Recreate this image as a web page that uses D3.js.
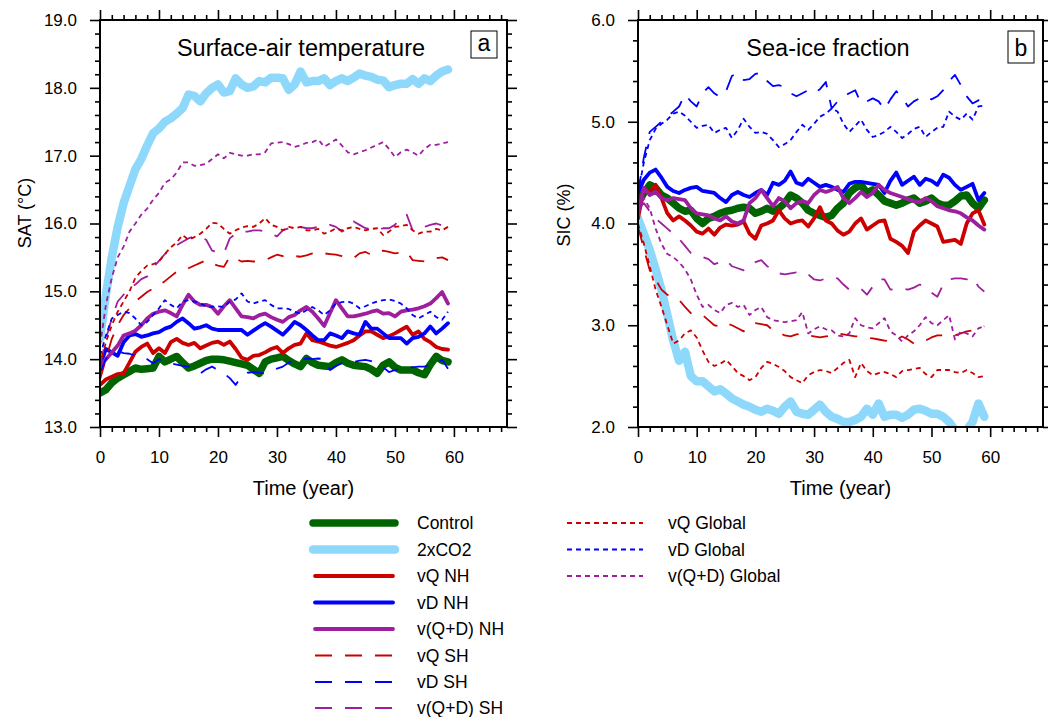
<!DOCTYPE html>
<html>
<head>
<meta charset="utf-8">
<script src="https://cdn.jsdelivr.net/npm/d3@7"></script>
<style>
  html, body { margin: 0; padding: 0; background: #fff; }
  svg { display: block; font-family: "Liberation Sans", Arial, Helvetica, sans-serif; }
</style>
</head>
<body>
<svg id="chart" width="1048" height="717"></svg>
<script>
// ---------------- DATA ----------------
const years = d3.range(0, 60);
const xTickValues = [0, 10, 20, 30, 40, 50, 60];
const satTicks = [13, 14, 15, 16, 17, 18, 19];
const sicTicks = [2, 3, 4, 5, 6];
const seriesNames = ["Control", "2xCO2", "vQ NH", "vD NH", "v(Q+D) NH", "vQ SH", "vD SH", "v(Q+D) SH", "vQ Global", "vD Global", "v(Q+D) Global"];

// Surface-air temperature (°C)
const satControl = [13.5,13.55,13.65,13.72,13.77,13.82,13.87,13.85,13.86,13.87,14.04,13.96,14.0,14.04,13.95,13.87,13.9,13.94,13.98,14.0,14.0,13.99,13.97,13.95,13.93,13.91,13.85,13.79,13.96,14.0,14.02,14.04,13.98,13.93,13.89,14.01,13.95,13.91,13.9,13.89,13.95,13.99,13.94,13.91,13.9,13.89,13.85,13.79,13.91,13.96,13.88,13.84,13.84,13.84,13.8,13.77,13.92,14.04,13.98,13.96];
const sat2xCO2 = [14.3,14.95,15.5,15.95,16.3,16.55,16.8,16.95,17.15,17.33,17.4,17.5,17.55,17.62,17.7,17.9,17.88,17.8,17.92,18.0,18.05,17.93,17.95,18.14,18.05,18.0,18.02,18.1,18.08,18.15,18.15,18.14,17.97,18.05,18.24,18.08,18.1,18.1,18.14,18.04,18.1,18.14,18.1,18.15,18.21,18.18,18.16,18.12,18.11,18.01,18.04,18.06,18.06,18.13,18.06,18.14,18.1,18.18,18.24,18.27];
const satVQNH = [13.62,13.7,13.74,13.78,13.79,13.95,14.11,14.18,14.23,14.09,14.16,14.09,14.25,14.3,14.24,14.21,14.24,14.16,14.2,14.24,14.26,14.21,14.26,14.15,14.02,13.99,14.05,14.06,14.1,14.15,14.18,14.09,14.16,14.21,14.23,14.38,14.28,14.26,14.23,14.2,14.18,14.21,14.24,14.28,14.35,14.41,14.41,14.36,14.31,14.34,14.38,14.43,14.48,14.36,14.41,14.3,14.25,14.18,14.15,14.14];
const satVDNH = [13.9,14.15,14.1,14.05,14.25,14.35,14.37,14.33,14.35,14.38,14.4,14.45,14.48,14.55,14.6,14.53,14.45,14.47,14.5,14.45,14.43,14.43,14.43,14.43,14.43,14.36,14.42,14.48,14.53,14.48,14.42,14.36,14.45,14.55,14.5,14.43,14.35,14.28,14.28,14.38,14.35,14.31,14.41,14.38,14.36,14.55,14.45,14.45,14.38,14.31,14.31,14.31,14.23,14.31,14.33,14.38,14.48,14.38,14.45,14.53];
const satVQDNH = [13.9,14.0,14.1,14.2,14.35,14.38,14.42,14.5,14.6,14.67,14.7,14.72,14.68,14.63,14.8,14.95,14.85,14.8,14.8,14.77,14.67,14.78,14.87,14.75,14.63,14.62,14.6,14.65,14.67,14.62,14.58,14.55,14.62,14.65,14.72,14.77,14.7,14.6,14.49,14.68,14.87,14.75,14.63,14.63,14.65,14.67,14.7,14.72,14.67,14.68,14.63,14.7,14.72,14.73,14.75,14.78,14.82,14.9,14.99,14.82];
const satVQSH = [13.7,14.0,14.3,14.5,14.65,14.75,14.85,14.92,14.99,15.04,15.09,15.15,15.22,15.29,15.3,15.34,15.38,15.42,15.46,15.41,15.38,15.36,15.51,15.48,15.44,15.45,15.44,15.45,15.46,15.5,15.54,15.52,15.54,15.52,15.51,15.53,15.56,15.58,15.56,15.55,15.54,15.52,15.5,15.49,15.56,15.58,15.54,15.56,15.6,15.58,15.56,15.57,15.58,15.46,15.45,15.44,15.47,15.49,15.5,15.46];
const satVDSH = [13.8,14.0,14.1,14.12,14.09,14.08,14.05,14.04,14.0,13.94,14.0,13.97,13.94,13.92,13.9,13.89,13.84,13.79,13.85,13.89,13.84,13.79,13.72,13.62,13.75,13.8,13.81,13.8,13.79,13.82,13.86,13.89,13.95,13.99,14.0,14.01,14.0,14.01,14.0,13.84,13.9,13.94,13.95,13.96,13.98,13.99,13.97,13.94,13.88,13.81,13.84,13.86,13.89,13.88,13.89,13.89,13.92,13.94,13.99,13.86];
const satVQDSH = [13.9,14.3,14.6,14.85,14.95,15.05,15.1,15.18,15.22,15.35,15.45,15.55,15.61,15.68,15.73,15.78,15.81,15.8,15.76,15.6,15.58,15.56,15.78,15.85,15.88,15.88,15.9,15.9,15.88,15.85,15.81,15.9,15.93,15.9,15.95,15.93,15.93,15.95,15.95,15.98,15.95,15.88,15.93,16.03,15.98,15.93,15.92,15.9,15.93,15.93,15.98,16.08,16.13,15.9,15.92,15.95,15.98,16.0,15.97,15.95];
const satVQGL = [13.9,14.25,14.5,14.7,14.85,15.0,15.2,15.3,15.38,15.4,15.44,15.55,15.65,15.72,15.83,15.76,15.8,15.85,15.92,16.01,16.0,15.92,15.85,15.9,15.94,15.96,15.95,16.0,16.08,15.98,15.95,15.9,15.95,15.93,15.95,15.9,15.9,15.92,15.85,15.88,15.93,15.9,15.93,15.95,15.92,15.9,15.92,15.93,15.83,15.88,15.95,15.96,15.98,15.9,15.85,15.88,15.88,15.92,15.9,15.95];
const satVDGL = [14.05,14.35,14.6,14.65,14.7,14.68,14.6,14.5,14.55,14.65,14.75,14.87,14.8,14.75,14.85,14.87,14.85,14.82,14.78,14.77,14.78,14.77,14.85,14.88,14.97,14.85,14.82,14.85,14.87,14.8,14.75,14.75,14.74,14.7,14.67,14.72,14.77,14.72,14.65,14.72,14.82,14.84,14.85,14.82,14.75,14.78,14.82,14.85,14.87,14.88,14.86,14.82,14.75,14.65,14.6,14.65,14.7,14.62,14.58,14.7];
const satVQDGL = [14.2,14.8,15.2,15.5,15.66,15.88,16.0,16.13,16.22,16.35,16.45,16.6,16.65,16.75,16.9,16.9,16.85,16.86,16.88,16.95,17.02,16.96,17.04,17.02,17.0,17.0,17.02,17.02,17.05,17.18,17.19,17.2,17.17,17.13,17.15,17.19,17.2,17.24,17.13,17.18,17.24,17.15,17.05,17.02,17.05,17.08,17.12,17.16,17.2,17.1,16.98,17.05,17.09,17.05,17.0,17.1,17.16,17.16,17.18,17.2];

// Sea-ice fraction (%)
const sicControl = [4.2,4.3,4.38,4.35,4.28,4.25,4.2,4.15,4.12,4.13,4.05,4.0,4.05,4.07,4.1,4.12,4.13,4.15,4.16,4.15,4.1,4.12,4.15,4.12,4.15,4.2,4.28,4.25,4.2,4.13,4.1,4.08,4.06,4.08,4.15,4.2,4.3,4.35,4.38,4.3,4.33,4.28,4.22,4.2,4.18,4.2,4.23,4.25,4.2,4.22,4.25,4.2,4.18,4.18,4.22,4.27,4.28,4.2,4.15,4.23];
const sic2xCO2 = [4.05,3.9,3.74,3.55,3.35,3.1,2.85,2.65,2.74,2.5,2.45,2.45,2.4,2.35,2.37,2.33,2.28,2.25,2.22,2.2,2.17,2.15,2.18,2.16,2.13,2.2,2.25,2.15,2.13,2.12,2.17,2.22,2.15,2.1,2.08,2.05,2.05,2.07,2.1,2.18,2.12,2.23,2.1,2.12,2.12,2.09,2.12,2.17,2.18,2.16,2.13,2.13,2.1,2.05,1.97,1.95,1.97,2.05,2.23,2.1];
const sicVQNH = [4.05,4.35,4.3,4.38,4.25,4.1,4.03,4.07,4.03,3.98,3.92,3.9,3.95,3.89,3.96,3.99,3.98,3.99,4.02,3.9,3.85,3.98,4.0,4.03,4.13,4.05,4.0,4.02,4.03,3.97,4.05,4.16,4.03,4.0,3.93,3.89,3.92,4.0,4.05,3.94,3.98,4.02,4.03,3.85,3.82,3.78,3.71,3.92,3.98,4.03,4.0,3.97,3.82,3.83,3.84,3.8,4.0,4.1,4.13,3.99];
const sicVDNH = [4.3,4.43,4.5,4.53,4.45,4.36,4.32,4.3,4.33,4.35,4.36,4.32,4.31,4.3,4.25,4.21,4.28,4.31,4.28,4.26,4.3,4.33,4.28,4.4,4.38,4.42,4.51,4.4,4.38,4.44,4.4,4.36,4.38,4.36,4.33,4.31,4.39,4.41,4.41,4.4,4.39,4.38,4.3,4.42,4.5,4.38,4.42,4.46,4.38,4.44,4.42,4.38,4.48,4.45,4.38,4.33,4.36,4.39,4.23,4.3];
const sicVQDNH = [4.1,4.35,4.28,4.31,4.25,4.23,4.25,4.24,4.23,4.15,4.1,4.09,4.08,4.05,4.03,4.07,4.02,4.0,4.03,4.2,4.25,4.33,4.25,4.17,4.25,4.22,4.15,4.2,4.22,4.2,4.28,4.33,4.31,4.33,4.36,4.25,4.2,4.25,4.31,4.26,4.3,4.38,4.33,4.3,4.28,4.26,4.24,4.22,4.21,4.25,4.22,4.17,4.15,4.13,4.12,4.1,4.06,4.03,3.98,3.94];
const sicVQSH = [3.97,3.75,3.54,3.45,3.35,3.3,3.27,3.25,3.18,3.12,3.1,3.1,3.05,3.0,2.99,3.02,3.0,2.97,2.94,2.98,3.02,3.01,3.0,2.95,2.93,2.9,2.89,2.91,2.92,2.9,2.89,2.88,2.89,2.9,2.92,2.91,2.9,2.89,2.89,2.88,2.87,2.86,2.85,2.84,2.86,2.89,2.86,2.82,2.83,2.85,2.88,2.9,2.9,2.9,2.9,2.92,2.94,2.95,2.97,2.99];
const sicVDSH = [4.3,4.65,4.9,4.95,5.0,5.05,5.1,5.15,5.27,5.2,5.15,5.28,5.34,5.28,5.24,5.3,5.45,5.48,5.41,5.42,5.47,5.48,5.4,5.35,5.36,5.34,5.28,5.25,5.28,5.31,5.28,5.32,5.39,5.13,5.2,5.25,5.28,5.31,5.18,5.2,5.23,5.2,5.12,5.22,5.3,5.24,5.15,5.2,5.23,5.25,5.22,5.25,5.31,5.4,5.46,5.36,5.25,5.18,5.21,5.31];
const sicVQDSH = [4.15,4.2,4.12,4.05,4.0,3.95,3.9,3.85,3.78,3.71,3.69,3.67,3.65,3.6,3.62,3.64,3.58,3.56,3.54,3.57,3.62,3.64,3.58,3.55,3.51,3.5,3.51,3.52,3.53,3.5,3.45,3.44,3.46,3.47,3.46,3.4,3.35,3.35,3.36,3.3,3.38,3.45,3.45,3.35,3.36,3.36,3.35,3.37,3.4,3.37,3.32,3.28,3.4,3.45,3.46,3.46,3.45,3.47,3.38,3.33];
const sicVQGL = [4.0,3.8,3.58,3.35,3.18,3.0,2.82,2.85,2.92,2.95,2.88,2.75,2.64,2.6,2.62,2.66,2.6,2.53,2.5,2.46,2.49,2.58,2.64,2.62,2.59,2.55,2.49,2.46,2.43,2.51,2.54,2.56,2.55,2.53,2.58,2.63,2.66,2.49,2.63,2.55,2.51,2.53,2.54,2.52,2.49,2.55,2.56,2.57,2.58,2.52,2.49,2.56,2.56,2.56,2.54,2.53,2.56,2.53,2.49,2.5];
const sicVDGL = [4.3,4.6,4.82,4.93,4.98,5.02,5.08,5.1,5.06,5.0,4.94,4.96,4.97,4.89,4.92,4.94,4.84,4.92,5.03,4.95,4.89,4.9,4.88,4.82,4.75,4.78,4.82,4.9,4.97,4.92,4.98,5.05,5.08,5.13,5.1,4.98,4.9,4.96,5.02,4.92,4.85,4.87,4.9,4.95,4.9,4.84,4.88,4.93,4.95,4.85,4.9,4.94,4.95,5.1,5.05,5.02,5.08,5.02,5.15,5.16];
const sicVQDGL = [4.05,4.25,4.15,3.95,3.8,3.7,3.67,3.62,3.55,3.45,3.3,3.18,3.2,3.15,3.12,3.2,3.22,3.18,3.2,3.1,3.15,3.18,3.08,3.05,3.04,3.03,3.04,3.05,3.13,2.92,2.96,2.99,2.96,2.95,2.9,2.89,2.92,3.07,3.0,2.98,2.97,3.02,3.07,2.94,2.9,2.84,2.9,2.94,3.0,3.08,3.02,3.0,3.05,3.1,2.86,2.94,2.92,2.89,2.97,2.99];

const satSeries = [satControl, sat2xCO2, satVQNH, satVDNH, satVQDNH, satVQSH, satVDSH, satVQDSH, satVQGL, satVDGL, satVQDGL];
const sicSeries = [sicControl, sic2xCO2, sicVQNH, sicVDNH, sicVQDNH, sicVQSH, sicVDSH, sicVQDSH, sicVQGL, sicVDGL, sicVQDGL];

// ---------------- STYLE ----------------
const RED = "#cc0000", BLUE = "#0000ff", PURPLE = "#9e1f9e";
const styles = [
  {color: "#006400", width: 7.5, dash: null},
  {color: "#8ed9fb", width: 8.5, dash: null},
  {color: RED, width: 3.8, dash: null},
  {color: BLUE, width: 3.8, dash: null},
  {color: PURPLE, width: 3.8, dash: null},
  {color: RED, width: 1.8, dash: "17,13"},
  {color: BLUE, width: 1.8, dash: "17,13"},
  {color: PURPLE, width: 1.8, dash: "17,13"},
  {color: RED, width: 1.8, dash: "5,4"},
  {color: BLUE, width: 1.8, dash: "5,4"},
  {color: PURPLE, width: 1.8, dash: "5,4"}
];

const svg = d3.select("#chart");
const FONT = 17;

function panel(cfg) {
  const x = d3.scaleLinear().domain([0, 69]).range([cfg.x0, cfg.x1]);
  const y = d3.scaleLinear().domain(cfg.yDomain).range([cfg.y1, cfg.y0]);
  const g = svg.append("g");
  const clipId = "clip" + cfg.id;
  svg.append("clipPath").attr("id", clipId).append("rect")
    .attr("x", cfg.x0).attr("y", cfg.y0).attr("width", cfg.x1 - cfg.x0).attr("height", cfg.y1 - cfg.y0);

  const xMinor = d3.range(0, 70, 2).filter(v => v % 10 !== 0);
  const yMinor = d3.range(cfg.yDomain[0], cfg.yDomain[1] + 0.001, 0.2).map(v => +v.toFixed(1)).filter(v => Math.abs(v - Math.round(v)) > 0.01);

  function styleAxis(sel) {
    sel.select(".domain").remove();
    sel.selectAll(".tick line").attr("stroke", "#000").attr("stroke-width", 1.6);
    sel.selectAll("text").attr("font-size", FONT).attr("fill", "#000").attr("font-family", "Liberation Sans, Arial, sans-serif");
  }
  // bottom
  g.append("g").attr("transform", `translate(0,${cfg.y1})`)
    .call(d3.axisBottom(x).tickValues(xTickValues).tickSize(10).tickPadding(14).tickFormat(d3.format("d"))).call(styleAxis);
  g.append("g").attr("transform", `translate(0,${cfg.y1})`)
    .call(d3.axisBottom(x).tickValues(xMinor).tickSize(5).tickFormat("")).call(styleAxis);
  // top
  g.append("g").attr("transform", `translate(0,${cfg.y0})`)
    .call(d3.axisTop(x).tickValues(xTickValues).tickSize(10).tickFormat("")).call(styleAxis);
  g.append("g").attr("transform", `translate(0,${cfg.y0})`)
    .call(d3.axisTop(x).tickValues(xMinor).tickSize(5).tickFormat("")).call(styleAxis);
  // left
  g.append("g").attr("transform", `translate(${cfg.x0},0)`)
    .call(d3.axisLeft(y).tickValues(cfg.yTicks).tickSize(10).tickPadding(13).tickFormat(d3.format(".1f"))).call(styleAxis);
  g.append("g").attr("transform", `translate(${cfg.x0},0)`)
    .call(d3.axisLeft(y).tickValues(yMinor).tickSize(5).tickFormat("")).call(styleAxis);
  // right
  g.append("g").attr("transform", `translate(${cfg.x1},0)`)
    .call(d3.axisRight(y).tickValues(cfg.yTicks).tickSize(10).tickFormat("")).call(styleAxis);
  g.append("g").attr("transform", `translate(${cfg.x1},0)`)
    .call(d3.axisRight(y).tickValues(yMinor).tickSize(5).tickFormat("")).call(styleAxis);

  // lines
  const line = d3.line().x((d, i) => x(years[i])).y(d => y(d));
  const lg = g.append("g").attr("clip-path", `url(#${clipId})`);
  cfg.series.forEach((s, i) => {
    const st = styles[i];
    lg.append("path").datum(s).attr("d", line)
      .attr("fill", "none").attr("stroke", st.color).attr("stroke-width", st.width)
      .attr("stroke-linejoin", "round").attr("stroke-linecap", st.dash ? "butt" : "round")
      .attr("stroke-dasharray", st.dash);
  });

  // frame
  g.append("rect").attr("x", cfg.x0).attr("y", cfg.y0).attr("width", cfg.x1 - cfg.x0).attr("height", cfg.y1 - cfg.y0)
    .attr("fill", "none").attr("stroke", "#000").attr("stroke-width", 2);

  // title
  g.append("text").attr("x", cfg.titleX).attr("y", 56).attr("text-anchor", "middle")
    .attr("font-size", 23.5).text(cfg.title);
  // letter box
  g.append("rect").attr("x", cfg.box[0]).attr("y", cfg.box[1]).attr("width", cfg.box[2]).attr("height", cfg.box[3])
    .attr("fill", "#fff").attr("stroke", "#000").attr("stroke-width", 1);
  g.append("text").attr("x", cfg.box[0] + cfg.box[2] / 2).attr("y", cfg.box[1] + cfg.box[3] - 7).attr("text-anchor", "middle")
    .attr("font-size", 23).text(cfg.letter);

  // axis titles
  g.append("text").attr("x", (cfg.x0 + cfg.x1) / 2).attr("y", 495).attr("text-anchor", "middle")
    .attr("font-size", 20).text("Time (year)");
  g.append("text").attr("transform", `translate(${cfg.yLabelX},${cfg.yLabelY}) rotate(-90)`).attr("text-anchor", "middle")
    .attr("font-size", 18).text(cfg.yLabel);
}

panel({id: "a", x0: 100, x1: 507, y0: 20, y1: 427, yDomain: [13, 19], yTicks: satTicks, series: satSeries,
  title: "Surface-air temperature", titleX: 301, letter: "a", box: [471, 31, 26, 27], yLabel: "SAT (°C)", yLabelX: 31, yLabelY: 213});
panel({id: "b", x0: 638, x1: 1043, y0: 20, y1: 427, yDomain: [2, 6], yTicks: sicTicks, series: sicSeries,
  title: "Sea-ice fraction", titleX: 828, letter: "b", box: [1008, 31, 26, 32], yLabel: "SIC (%)", yLabelX: 570, yLabelY: 215});

// ---------------- LEGEND ----------------
const legend = svg.append("g");
const rowY = [523, 549.5, 576, 602.5, 629, 655.5, 682, 708];
seriesNames.forEach((name, i) => {
  const st = styles[i];
  const col = i < 8 ? 0 : 1;
  const r = i < 8 ? i : i - 8;
  const yy = rowY[r];
  const lx0 = col === 0 ? (st.width > 5 ? 313 : 315) : 567;
  const lx1 = col === 0 ? (st.width > 5 ? 395 : 393) : 643;
  const tx = col === 0 ? 417 : 668;
  legend.append("line").attr("x1", lx0).attr("x2", lx1).attr("y1", yy).attr("y2", yy)
    .attr("stroke", st.color).attr("stroke-width", st.width)
    .attr("stroke-linecap", st.dash ? "butt" : "round").attr("stroke-dasharray", st.dash);
  legend.append("text").attr("x", tx).attr("y", yy + 6).attr("font-size", 17.5).text(name);
});
</script>
</body>
</html>
